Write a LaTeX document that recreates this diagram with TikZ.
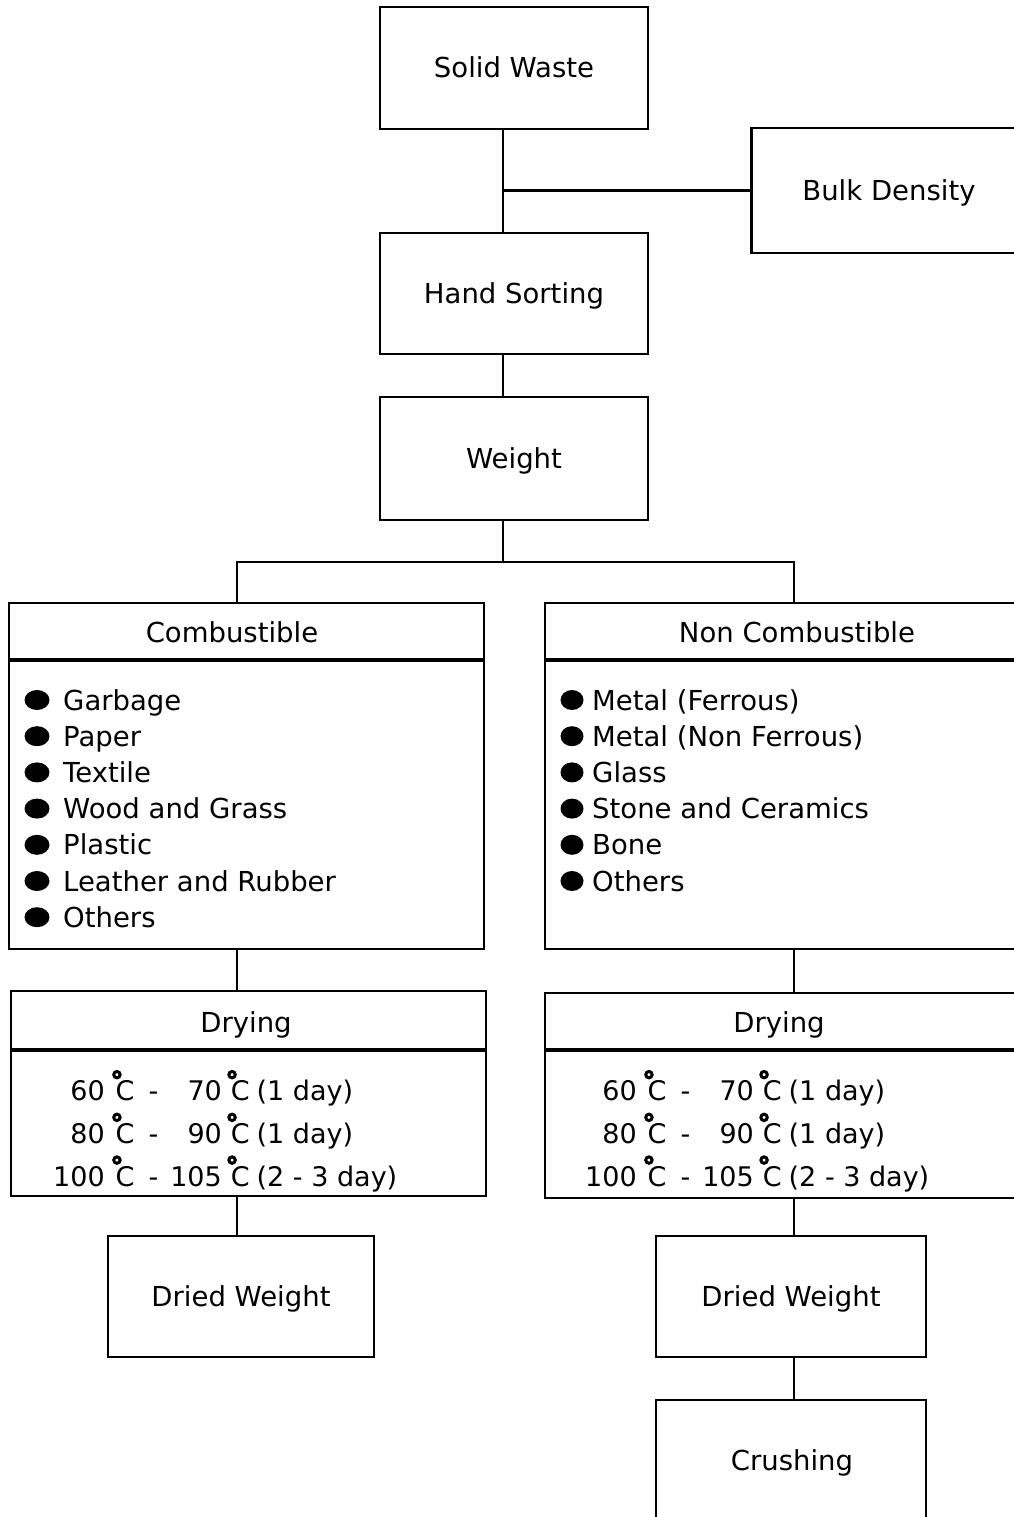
\documentclass[tikz,border=0pt]{standalone}
\usepackage{fontspec}
\setmainfont{DejaVu Sans}
% degree ring set above the left part of the C
\newcommand\dgC{\makebox[0pt][l]{\hspace{-3.5pt}\raisebox{26pt}{%
  \tikz[x=1pt,y=1pt,baseline={(0,0)}]\draw[line width=3pt] (0,0) circle (3.2pt);}}C}
\newcommand\templines{%
  \begin{tabular}{@{}r@{\hspace{11pt}}l@{\hspace{14pt}-\hspace{12pt}}r@{\hspace{9pt}}l@{\hspace{7pt}}l@{}}
    60  & \dgC & 70  & \dgC & (1 day)\\
    80  & \dgC & 90  & \dgC & (1 day)\\
    100 & \dgC & 105 & \dgC & (2 - 3 day)
  \end{tabular}}
\begin{document}
\begin{tikzpicture}[x=1pt,y=-1pt,
  box/.style={draw,line width=2.5pt,inner sep=0pt,
    font=\fontsize{27.5}{33}\selectfont,text height=20pt,text depth=0pt},
  lbl/.style={inner sep=0pt,font=\fontsize{27.5}{33}\selectfont,
    text height=20pt,text depth=0pt},
  item/.style={lbl,anchor=west},
  temps/.style={inner sep=0pt,anchor=west,
    font=\fontsize{27}{40}\selectfont},
  wire/.style={line width=2.2pt},
  divider/.style={line width=3.5pt},
  bul/.style={fill=black}]
\useasboundingbox (0,0) rectangle (1014,1517);
\fill[white] (0,0) rectangle (1014,1517);
\clip (0,0) rectangle (1014,1517);

% branch columns
\coordinate (trunk) at (503,0);
\coordinate (lb) at (237,0);
\coordinate (rb) at (794,0);
\coordinate (split) at (503,562);

% main column
\node[box,minimum width=268pt,minimum height=122pt] (sw) at (514,68) {Solid Waste};
\node[box,minimum width=275pt,minimum height=125pt] (bd) at (889,190.5) {Bulk Density};
\node[box,minimum width=268pt,minimum height=121pt] (hs) at (514,293.5) {Hand Sorting};
\node[box,minimum width=268pt,minimum height=123pt] (wt) at (514,458.5) {Weight};

% combustible group
\node[box,minimum width=475pt,minimum height=346pt] (comb) at (246.5,776) {};
\node[lbl] (combh) at (232,632) {Combustible};
\draw[divider] ([yshift=-58pt]comb.north west) -- ([yshift=-58pt]comb.north east);
\foreach \t [count=\i] in {Garbage,Paper,Textile,Wood and Grass,Plastic,Leather and Rubber,Others}{
  \node[item] (ci\i) at (63,{700+36.2*(\i-1)}) {\t};
  \fill[bul] (37,{700+36.2*(\i-1)}) ellipse (12.5 and 10);
}

% non-combustible group
\node[box,minimum width=485pt,minimum height=346pt] (ncomb) at (787.5,776) {};
\node[lbl] (ncombh) at (797,632) {Non Combustible};
\draw[divider] ([yshift=-58pt]ncomb.north west) -- ([yshift=-58pt]ncomb.north east);
\foreach \t [count=\i] in {Metal (Ferrous),Metal (Non Ferrous),Glass,Stone and Ceramics,Bone,Others}{
  \node[item] (ni\i) at (592,{700+36.2*(\i-1)}) {\t};
  \fill[bul] (572,{700+36.2*(\i-1)}) ellipse (11.5 and 10);
}

% drying steps
\node[box,minimum width=475pt,minimum height=205pt] (dryl) at (248.5,1093.5) {};
\node[lbl] (drylh) at (246,1022) {Drying};
\draw[divider] ([yshift=-60pt]dryl.north west) -- ([yshift=-60pt]dryl.north east);
\node[temps] (dryllines) at (53,1134) {\templines};

\node[box,minimum width=485pt,minimum height=205pt] (dryr) at (787.5,1095.5) {};
\node[lbl] (dryrh) at (779,1022) {Drying};
\draw[divider] ([yshift=-58pt]dryr.north west) -- ([yshift=-58pt]dryr.north east);
\node[temps] (dryrlines) at (585,1134) {\templines};

% dried weight and crushing
\node[box,minimum width=266pt,minimum height=121pt] (dwl) at (241,1296.5) {Dried Weight};
\node[box,minimum width=270pt,minimum height=121pt] (dwr) at (791,1296.5) {Dried Weight};
\node[box,minimum width=270pt,minimum height=130pt] (cr) at (791,1465) {};
\node[lbl] (crh) at (792,1460) {Crushing};

% connectors
\draw[wire] (sw.south -| trunk) -- (hs.north -| trunk);
\draw[wire] (trunk |- bd.west) -- (bd.west);
\draw[wire] (hs.south -| trunk) -- (wt.north -| trunk);
\draw[wire] (wt.south -| trunk) -- (split);
\draw[wire] (comb.north -| lb) |- (split) -| (ncomb.north -| rb);
\draw[wire] (comb.south -| lb) -- (dryl.north -| lb);
\draw[wire] (ncomb.south -| rb) -- (dryr.north -| rb);
\draw[wire] (dryl.south -| lb) -- (dwl.north -| lb);
\draw[wire] (dryr.south -| rb) -- (dwr.north -| rb);
\draw[wire] (dwr.south -| rb) -- (cr.north -| rb);
\end{tikzpicture}
\end{document}
